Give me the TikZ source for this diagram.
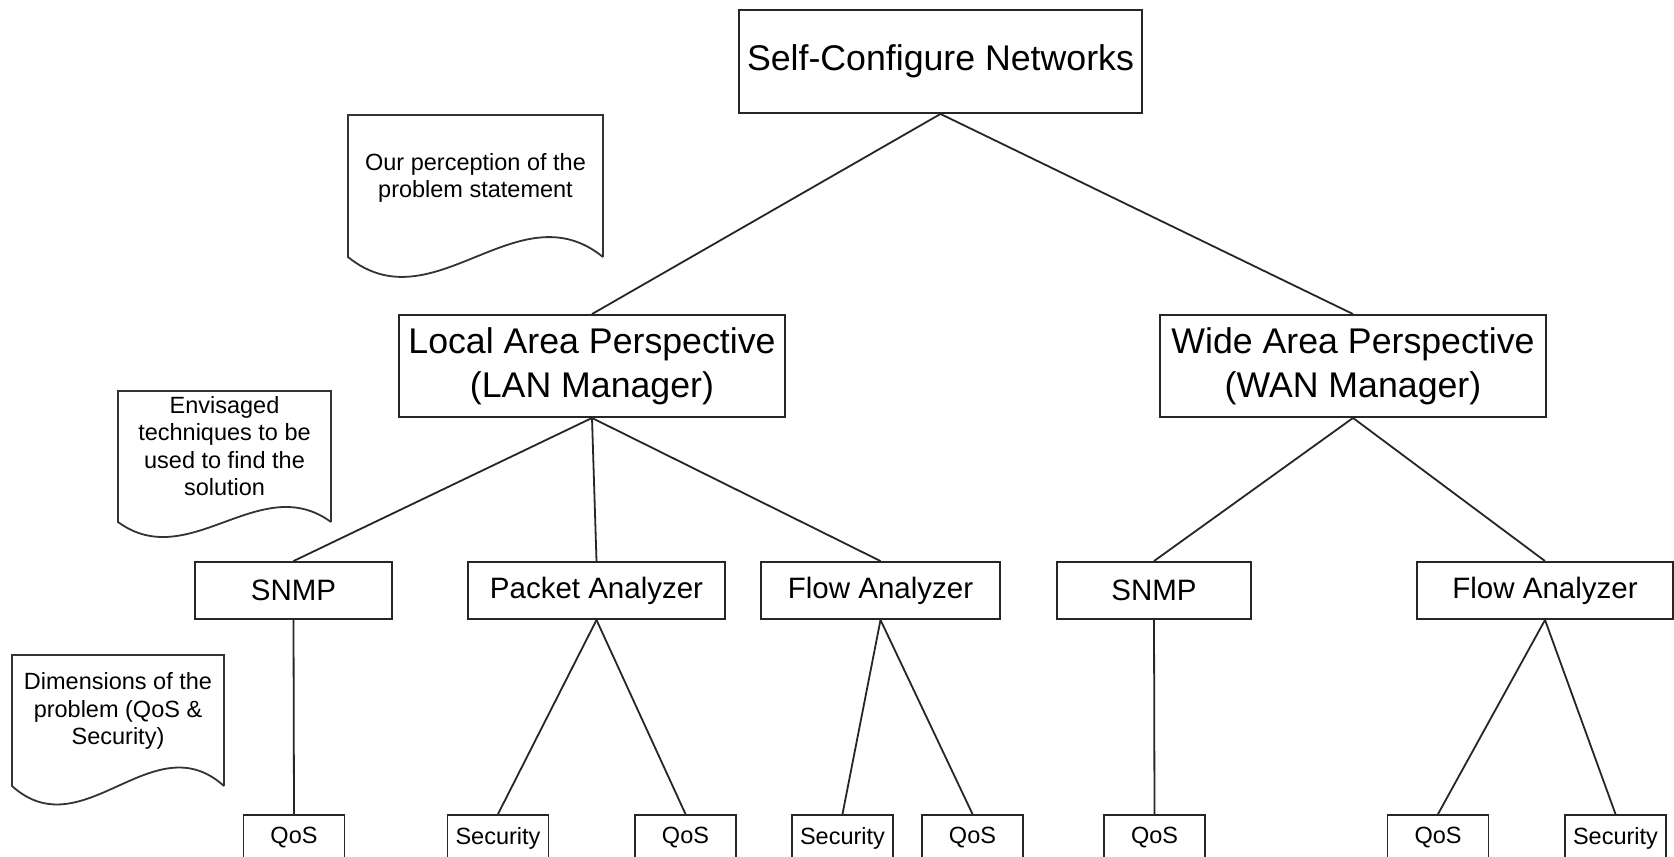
\documentclass[tikz,border=0pt]{standalone}
\usepackage{fontspec}
\setmainfont{Liberation Sans}
\begin{document}
\begin{tikzpicture}[x=1pt,y=-1pt,
  box/.style={draw=black!85, line width=1.9pt, inner sep=0pt, align=center, fill=white},
  link/.style={draw=black!85, line width=1.8pt},
  doc/.style={draw=black!80, line width=1.8pt, fill=white},
  big/.style={font=\fontsize{35.7}{44}\selectfont},
  mid/.style={font=\fontsize{29.5}{35}\selectfont, minimum height=57pt},
  leaf/.style={font=\fontsize{23.5}{28}\selectfont, minimum width=101pt, minimum height=46pt},
  note/.style={inner sep=0pt, align=center, font=\fontsize{23.5}{27.5}\selectfont},
]
\clip (0,0) rectangle (1674,857);
\fill[white] (0,0) rectangle (1674,857);

% hierarchy boxes
\node[box,big,minimum width=403pt,minimum height=103pt] (root) at (940.5,61.5) {Self-Configure Networks};
\node[box,big,minimum width=386pt,minimum height=102pt] (lan) at (592,366) {Local Area Perspective\\(LAN Manager)};
\node[box,big,minimum width=386pt,minimum height=102pt] (wan) at (1353,366) {Wide Area Perspective\\(WAN Manager)};

\node[box,mid,minimum width=197pt] (snmpL) at (293.5,590.5) {SNMP};
\node[box,mid,minimum width=257pt] (pkt) at (596.5,590.5) {Packet Analyzer};
\node[box,mid,minimum width=239pt] (flowL) at (880.5,590.5) {Flow Analyzer};
\node[box,mid,minimum width=194pt] (snmpW) at (1154,590.5) {SNMP};
\node[box,mid,minimum width=256pt] (flowW) at (1545,590.5) {Flow Analyzer};

\node[box,leaf] (qos1) at (294,838) {QoS};
\node[box,leaf] (sec1) at (498,838) {Security};
\node[box,leaf] (qos2) at (685.5,838) {QoS};
\node[box,leaf] (sec2) at (842.5,838) {Security};
\node[box,leaf] (qos3) at (972.5,838) {QoS};
\node[box,leaf] (qos4) at (1154.5,838) {QoS};
\node[box,leaf] (qos5) at (1438,838) {QoS};
\node[box,leaf] (sec3) at (1615.5,838) {Security};

% connectors
\draw[link] (root.south) -- (lan.north);
\draw[link] (root.south) -- (wan.north);
\draw[link] (lan.south) -- (snmpL.north);
\draw[link] (lan.south) -- (pkt.north);
\draw[link] (lan.south) -- (flowL.north);
\draw[link] (wan.south) -- (snmpW.north);
\draw[link] (wan.south) -- (flowW.north);
\draw[link] (snmpL.south) -- (qos1.north);
\draw[link] (pkt.south) -- (sec1.north);
\draw[link] (pkt.south) -- (qos2.north);
\draw[link] (flowL.south) -- (sec2.north);
\draw[link] (flowL.south) -- (qos3.north);
\draw[link] (snmpW.south) -- (qos4.north);
\draw[link] (flowW.south) -- (qos5.north);
\draw[link] (flowW.south) -- (sec3.north);

% document-shaped annotations
\draw[doc] (603,257) -- (603,115) -- (348,115) -- (348,257)
  .. controls (433,326) and (518,188) .. (603,257);
\node[note] (d1) at (475.5,178) {Our perception of the\\problem statement};

\draw[doc] (331,522) -- (331,391) -- (118,391) -- (118,522)
  .. controls (189,574) and (260,470) .. (331,522);
\node[note] (d2) at (224.5,446) {Envisaged\\techniques to be\\used to find the\\solution};

\draw[doc] (224,786) -- (224,655) -- (12,655) -- (12,786)
  .. controls (83,850) and (153,722) .. (224,786);
\node[note] (d3) at (118,711) {Dimensions of the\\problem (QoS \&\\Security)};
\end{tikzpicture}
\end{document}
